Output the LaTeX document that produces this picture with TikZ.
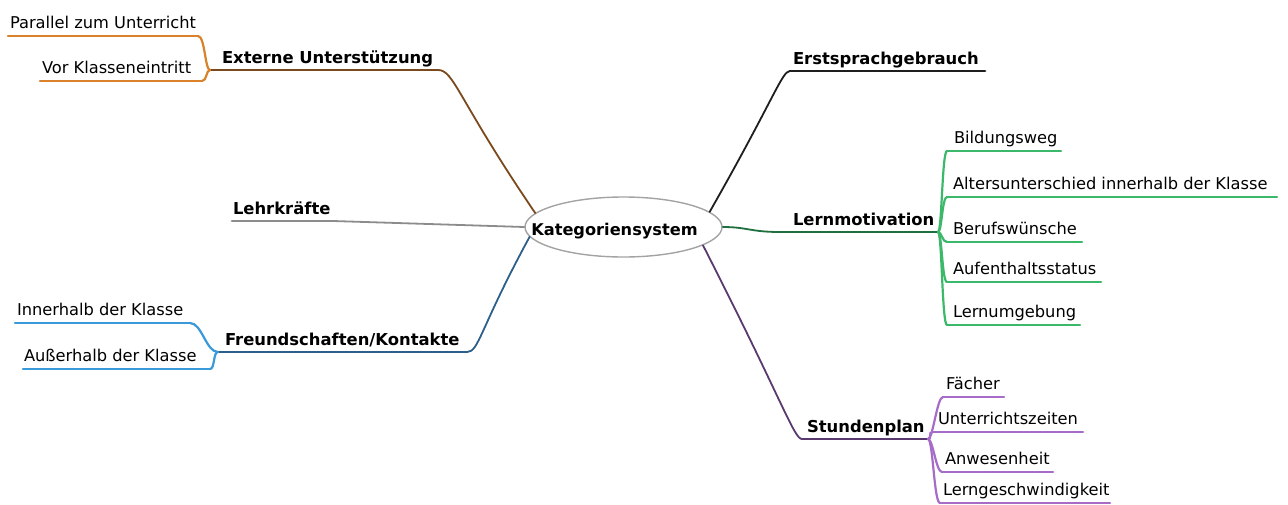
\documentclass[tikz,border=0pt]{standalone}
\usepackage{fontspec}
\setmainfont{DejaVu Sans}
\usetikzlibrary{calc,shapes.geometric}
\newcommand{\lbx}[2]{\makebox[#1pt][l]{#2}}
\definecolor{cbrown}{HTML}{7A4A1E}
\definecolor{corange}{HTML}{D9822B}
\definecolor{cgray}{HTML}{8C8C8C}
\definecolor{cdblue}{HTML}{2C5F8A}
\definecolor{clblue}{HTML}{3A9AD9}
\definecolor{cblack}{HTML}{1E1E1E}
\definecolor{cdgreen}{HTML}{1F6F3F}
\definecolor{clgreen}{HTML}{3CB86A}
\definecolor{cdpurple}{HTML}{5A3A6E}
\definecolor{clpurple}{HTML}{A66CC8}
\begin{document}
\begin{tikzpicture}[x=1pt,y=-1pt,
  lab/.style={anchor=south west, inner ysep=0pt, outer sep=0pt, text height=12pt, text depth=8pt, font=\fontsize{16.25}{19}\selectfont},
  blab/.style={anchor=south west, inner ysep=0pt, outer sep=0pt, text height=12pt, text depth=7pt, font=\fontsize{16.4}{19}\selectfont\bfseries},
  sub/.style={line width=2.2pt, line cap=round},
  main/.style={line width=2.8pt, line cap=round},
  conn/.style={line width=1.8pt, line cap=round},
]
\useasboundingbox (0,0) rectangle (1288,504);

% centre
\node[ellipse, draw=cgray!80, line width=1.4pt, minimum width=197pt, minimum height=60pt, inner sep=0pt,
      text height=8pt, text depth=0pt,
      font=\fontsize{16.2}{18}\selectfont\bfseries] (k) at (623.5,227) {\makebox[100pt][c]{\kern-9pt\raisebox{-4pt}{Kategoriensystem}\kern9pt}};

% left: Externe Unterstuetzung
\node[blab, inner xsep=12pt] (ext) at (210,70) {\lbx{204}{Externe Unterstützung}};
\node[lab, inner xsep=2pt] (par) at (8,36) {\lbx{186}{Parallel zum Unterricht}};
\node[lab, inner xsep=2pt] (vor) at (40,81) {\lbx{158}{Vor Klasseneintritt}};
\draw[main, cbrown] (ext.south west) -- (ext.south east);
\draw[sub, corange] (par.south west) -- (par.south east);
\draw[sub, corange] (vor.south west) -- (vor.south east);
\draw[sub, corange] (par.south east) .. controls +(7,0) and +(-5,0) .. (ext.south west);
\draw[sub, corange] (vor.south east) .. controls +(5,0) and +(-4,0) .. (ext.south west);
\draw[conn, cbrown] (ext.south east) .. controls +(16,0) and ($(k.171)!0.8!(ext.south east)$) .. (k.171);

% left: Lehrkraefte
\node[blab, inner xsep=1pt] (lk) at (232,221) {\lbx{99}{Lehrkräfte}};
\draw[main, cgray] (lk.south west) -- (lk.south east);
\draw[conn, cgray] (lk.south east) -- (k.west);

% left: Freundschaften
\node[blab, inner xsep=7pt] (fr) at (218,352) {\lbx{235}{Freundschaften/Kontakte}};
\node[lab, inner xsep=2pt] (inn) at (15,323) {\lbx{171}{Innerhalb der Klasse}};
\node[lab, inner xsep=1pt] (aus) at (23,369) {\lbx{185}{Außerhalb der Klasse}};
\draw[main, cdblue] (fr.south west) -- (fr.south east);
\draw[sub, clblue] (inn.south west) -- (inn.south east);
\draw[sub, clblue] (aus.south west) -- (aus.south east);
\draw[sub, clblue] (inn.south east) .. controls +(12,0) and +(-12,0) .. (fr.south west);
\draw[sub, clblue] (aus.south east) .. controls +(5,0) and +(-5,0) .. (fr.south west);
\draw[conn, cdblue] (fr.south east) .. controls +(12,0) and ($(k.186)!0.8!(fr.south east)$) .. (k.186);

% right: Erstsprachgebrauch
\node[blab, inner xsep=3pt] (er) at (790,71) {\lbx{189}{Erstsprachgebrauch}};
\draw[main, cblack] (er.south west) -- (er.south east);
\draw[conn, cblack] (k.10) .. controls ($(k.10)!0.8!(er.south west)$) and +(-8,0) .. (er.south west);

% right: Lernmotivation
\node[blab, inner xsep=13pt] (lm) at (780,232) {\lbx{132}{Lernmotivation}};
\node[lab, inner xsep=7pt] (bw) at (947,151) {\lbx{100}{Bildungsweg}};
\node[lab, inner xsep=6pt] (al) at (947,197) {\lbx{318}{Altersunterschied innerhalb der Klasse}};
\node[lab, inner xsep=6pt] (be) at (947,242) {\lbx{123}{Berufswünsche}};
\node[lab, inner xsep=6pt] (au) at (947,282) {\lbx{142}{Aufenthaltsstatus}};
\node[lab, inner xsep=6pt] (lu) at (947,325) {\lbx{121}{Lernumgebung}};
\draw[main, cdgreen] (lm.south west) -- (lm.south east);
\draw[conn, cdgreen] (k.east) .. controls +(25,0) and +(-30,0) .. (lm.south west);
\foreach \c in {bw,al,be,au,lu}{
  \draw[sub, clgreen] (\c.south west) -- (\c.south east);
  \draw[sub, clgreen] (lm.south east) .. controls +(4,0) and +(-5,0) .. (\c.south west);
}

% right: Stundenplan
\node[blab, inner xsep=5pt] (st) at (802,439) {\lbx{116}{Stundenplan}};
\node[lab, inner xsep=3pt] (fa) at (943,397) {\lbx{55}{Fächer}};
\node[lab, inner xsep=5pt] (un) at (933,432) {\lbx{140}{Unterrichtszeiten}};
\node[lab, inner xsep=3pt] (an) at (942,472) {\lbx{105}{Anwesenheit}};
\node[lab, inner xsep=3pt] (lg) at (940,503) {\lbx{164}{Lerngeschwindigkeit}};
\draw[main, cdpurple] (st.south west) -- (st.south east);
\draw[conn, cdpurple] (k.347) .. controls ($(k.347)!0.8!(st.south west)$) and +(-8,0) .. (st.south west);
\foreach \c in {fa,un,an,lg}{
  \draw[sub, clpurple] (\c.south west) -- (\c.south east);
  \draw[sub, clpurple] (st.south east) .. controls +(5,0) and +(-6,0) .. (\c.south west);
}
\end{tikzpicture}
\end{document}
